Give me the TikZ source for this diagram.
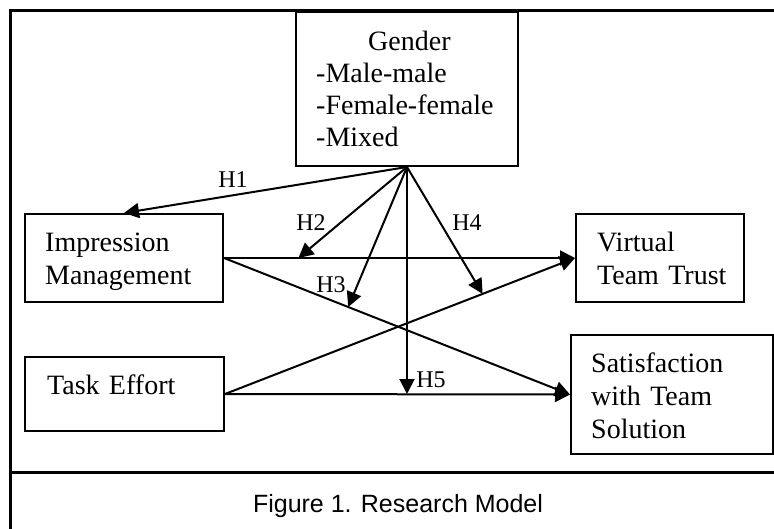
\documentclass[tikz,border=0pt]{standalone}
\usepackage{fontspec}
\setmainfont{Liberation Serif}
\newfontfamily\capfont{Liberation Sans}
\usetikzlibrary{arrows.meta,calc}
\begin{document}
\begin{tikzpicture}[x=1pt,y=-1pt,
  box/.style={draw,line width=2pt,inner sep=0pt},
  txt/.style={anchor=base west,inner sep=0pt,align=left,text width=200pt,font=\fontsize{28}{33}\selectfont},
  hlab/.style={anchor=base,inner sep=0pt,font=\fontsize{24}{28}\selectfont},
  conn/.style={line width=2pt},
  arr/.style={conn,-{Triangle[length=15pt,width=15pt]}}]
\useasboundingbox (0,0) rectangle (774,529);
\clip (0,0) rectangle (774,529);
% frame
\draw[line width=3pt] (10.5,540) -- (10.5,10.5) -- (790,10.5);
\draw[line width=2.4pt] (10.5,472.5) -- (790,472.5);
% boxes
\node[box,minimum width=222pt,minimum height=154pt] (gender) at (407,89) {};
\node[txt,font=\fontsize{28}{32}\selectfont] (gendert) at (316,51) {\hspace*{52pt}Gender\\-Male-male\\-Female-female\\-Mixed};
\node[box,minimum width=198pt,minimum height=88pt] (im) at (124,258) {};
\node[txt] (imt) at (45,252) {Impression\\Management};
\node[box,minimum width=168pt,minimum height=88pt] (vtt) at (660,258) {};
\node[txt] (vttt) at (597,252) {Virtual\\Team Trust};
\node[box,minimum width=199pt,minimum height=74pt] (te) at (124.5,394) {};
\node[txt] (tet) at (47,394) {Task Effort};
\node[box,minimum width=202pt,minimum height=119pt] (sat) at (672,394.5) {};
\node[txt] (satt) at (591,373) {Satisfaction\\with Team\\Solution};
% main paths
\draw[arr] (im.east) -- coordinate[pos=0.212] (p2) (vtt.west);
\draw[arr] (im.east) -- coordinate[pos=0.359] (p3) (sat.west);
\draw[arr] (te.east) -- coordinate[pos=0.736] (p4) (vtt.west);
\draw[arr] (te.east) -- (sat.west);
\coordinate (p5) at (gender.south |- te.east);
% moderation arrows
\draw[arr] (gender.south) -- (im.north);
\draw[arr] (gender.south) -- (p2);
\draw[arr] (gender.south) -- (p3);
\draw[arr] (gender.south) -- (p4);
\draw[arr] (gender.south) -- (p5);
% labels
\node[hlab] (h1) at (233,188) {H1};
\node[hlab] (h2) at (311,231) {H2};
\node[hlab] (h3) at (331,293) {H3};
\node[hlab] (h4) at (467,231) {H4};
\node[hlab] (h5) at (431,388) {H5};
% caption
\node[anchor=base,inner sep=0pt,font=\capfont\fontsize{25}{29}\selectfont] (cap) at (398,512) {Figure 1. Research Model};
\end{tikzpicture}
\end{document}
